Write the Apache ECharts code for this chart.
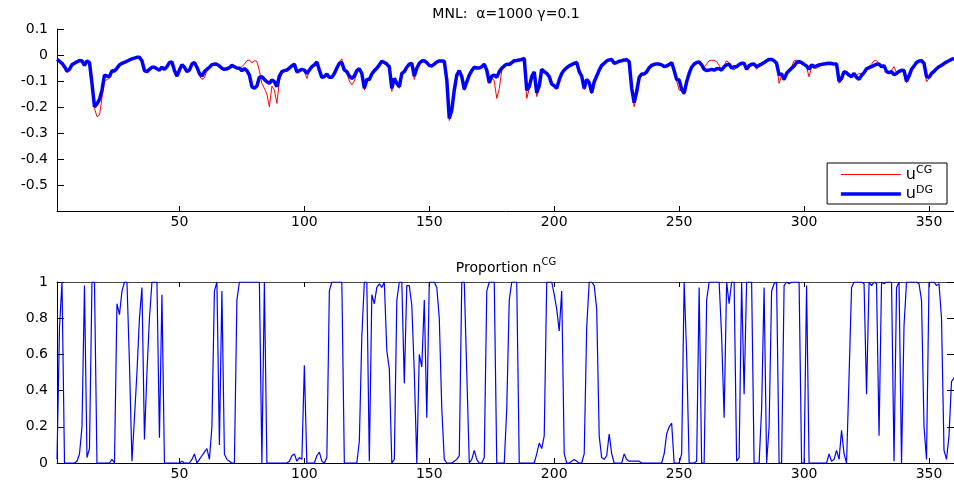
<!DOCTYPE html>
<html><head><meta charset="utf-8">
<script src="https://cdn.jsdelivr.net/npm/echarts@6/dist/echarts.min.js"></script>
<style>html,body{margin:0;padding:0;background:#fff}#c{width:954px;height:487px}</style>
</head><body><div id="c"></div>
<script>
const N = 360;
const xs = Array.from({length: N}, (_, k) => k + 1);
const xTicks = [50, 100, 150, 200, 250, 300, 350];

const uDG = [
-0.017,-0.024,-0.032,-0.045,-0.062,-0.055,-0.037,-0.032,-0.026,-0.022,
-0.022,-0.040,-0.023,-0.029,-0.109,-0.199,-0.188,-0.171,-0.135,-0.077,
-0.081,-0.083,-0.060,-0.062,-0.051,-0.038,-0.032,-0.028,-0.024,-0.019,
-0.015,-0.012,-0.009,-0.009,-0.022,-0.060,-0.064,-0.055,-0.047,-0.047,
-0.053,-0.058,-0.047,-0.055,-0.045,-0.029,-0.027,-0.060,-0.081,-0.058,
-0.037,-0.047,-0.064,-0.058,-0.035,-0.029,-0.047,-0.071,-0.081,-0.064,
-0.055,-0.047,-0.037,-0.035,-0.036,-0.042,-0.051,-0.055,-0.053,-0.049,
-0.040,-0.045,-0.050,-0.051,-0.060,-0.053,-0.060,-0.077,-0.122,-0.128,
-0.119,-0.086,-0.083,-0.094,-0.103,-0.109,-0.096,-0.103,-0.122,-0.081,
-0.064,-0.060,-0.058,-0.050,-0.042,-0.035,-0.065,-0.060,-0.055,-0.058,
-0.071,-0.058,-0.045,-0.038,-0.027,-0.058,-0.086,-0.083,-0.073,-0.086,
-0.086,-0.071,-0.050,-0.032,-0.029,-0.058,-0.064,-0.081,-0.090,-0.081,
-0.060,-0.053,-0.071,-0.128,-0.094,-0.094,-0.073,-0.060,-0.051,-0.038,
-0.024,-0.029,-0.035,-0.045,-0.128,-0.090,-0.109,-0.122,-0.071,-0.064,
-0.047,-0.035,-0.032,-0.081,-0.051,-0.032,-0.023,-0.022,-0.029,-0.040,
-0.042,-0.035,-0.027,-0.023,-0.023,-0.024,-0.096,-0.244,-0.212,-0.135,
-0.077,-0.060,-0.083,-0.132,-0.103,-0.077,-0.060,-0.047,-0.050,-0.050,
-0.045,-0.035,-0.058,-0.106,-0.081,-0.077,-0.086,-0.064,-0.051,-0.042,
-0.035,-0.037,-0.029,-0.022,-0.021,-0.019,-0.017,-0.013,-0.135,-0.122,
-0.083,-0.065,-0.145,-0.119,-0.055,-0.064,-0.071,-0.083,-0.112,-0.118,
-0.128,-0.096,-0.071,-0.058,-0.049,-0.042,-0.037,-0.032,-0.029,-0.064,
-0.081,-0.128,-0.094,-0.106,-0.145,-0.103,-0.081,-0.058,-0.040,-0.032,
-0.023,-0.019,-0.017,-0.032,-0.029,-0.024,-0.022,-0.019,-0.018,-0.026,
-0.128,-0.183,-0.141,-0.086,-0.073,-0.073,-0.065,-0.049,-0.040,-0.036,
-0.035,-0.035,-0.038,-0.044,-0.042,-0.037,-0.029,-0.060,-0.094,-0.096,
-0.132,-0.147,-0.103,-0.071,-0.047,-0.035,-0.029,-0.027,-0.038,-0.055,
-0.060,-0.058,-0.055,-0.058,-0.053,-0.053,-0.058,-0.045,-0.038,-0.035,
-0.050,-0.045,-0.045,-0.037,-0.032,-0.032,-0.055,-0.041,-0.036,-0.035,
-0.045,-0.040,-0.035,-0.029,-0.022,-0.017,-0.017,-0.022,-0.032,-0.076,
-0.073,-0.094,-0.071,-0.060,-0.051,-0.042,-0.029,-0.026,-0.029,-0.036,
-0.042,-0.055,-0.038,-0.045,-0.042,-0.038,-0.036,-0.035,-0.033,-0.032,
-0.033,-0.035,-0.035,-0.101,-0.090,-0.064,-0.068,-0.078,-0.083,-0.071,
-0.086,-0.094,-0.078,-0.068,-0.053,-0.049,-0.045,-0.040,-0.036,-0.035,
-0.045,-0.041,-0.064,-0.068,-0.064,-0.076,-0.071,-0.063,-0.059,-0.060,
-0.101,-0.081,-0.055,-0.042,-0.029,-0.023,-0.022,-0.032,-0.083,-0.086,
-0.071,-0.063,-0.053,-0.045,-0.040,-0.033,-0.027,-0.022,-0.017,-0.013
];

const uCG = [
-0.015,-0.026,-0.035,-0.050,-0.068,-0.058,-0.040,-0.034,-0.028,-0.020,
-0.020,-0.042,-0.025,-0.031,-0.115,-0.205,-0.237,-0.231,-0.165,-0.103,
-0.094,-0.090,-0.066,-0.064,-0.053,-0.040,-0.033,-0.028,-0.023,-0.018,
-0.014,-0.011,-0.008,-0.010,-0.025,-0.064,-0.068,-0.057,-0.046,-0.044,
-0.050,-0.061,-0.045,-0.058,-0.047,-0.027,-0.025,-0.065,-0.084,-0.060,
-0.035,-0.050,-0.067,-0.060,-0.033,-0.028,-0.050,-0.080,-0.094,-0.088,
-0.060,-0.048,-0.036,-0.033,-0.035,-0.045,-0.055,-0.058,-0.053,-0.047,
-0.038,-0.047,-0.052,-0.050,-0.045,-0.035,-0.022,-0.019,-0.030,-0.022,
-0.025,-0.060,-0.110,-0.128,-0.150,-0.199,-0.120,-0.135,-0.186,-0.100,
-0.070,-0.062,-0.060,-0.052,-0.045,-0.036,-0.070,-0.062,-0.058,-0.062,
-0.090,-0.062,-0.047,-0.036,-0.024,-0.062,-0.090,-0.085,-0.070,-0.088,
-0.088,-0.073,-0.048,-0.025,-0.015,-0.062,-0.070,-0.100,-0.115,-0.100,
-0.070,-0.056,-0.075,-0.135,-0.098,-0.098,-0.075,-0.062,-0.050,-0.036,
-0.022,-0.028,-0.036,-0.048,-0.140,-0.094,-0.112,-0.128,-0.075,-0.066,
-0.045,-0.034,-0.030,-0.094,-0.055,-0.032,-0.022,-0.021,-0.026,-0.042,
-0.044,-0.036,-0.027,-0.022,-0.022,-0.025,-0.105,-0.252,-0.218,-0.140,
-0.080,-0.062,-0.088,-0.136,-0.108,-0.080,-0.062,-0.048,-0.052,-0.052,
-0.046,-0.033,-0.062,-0.110,-0.085,-0.100,-0.167,-0.130,-0.060,-0.044,
-0.036,-0.038,-0.030,-0.023,-0.020,-0.018,-0.016,-0.014,-0.167,-0.130,
-0.086,-0.068,-0.160,-0.125,-0.058,-0.066,-0.073,-0.086,-0.116,-0.122,
-0.132,-0.100,-0.074,-0.060,-0.050,-0.043,-0.038,-0.033,-0.030,-0.068,
-0.086,-0.133,-0.098,-0.110,-0.150,-0.108,-0.085,-0.060,-0.041,-0.033,
-0.023,-0.019,-0.017,-0.034,-0.030,-0.025,-0.022,-0.019,-0.018,-0.028,
-0.135,-0.199,-0.150,-0.092,-0.078,-0.076,-0.068,-0.051,-0.041,-0.036,
-0.035,-0.036,-0.039,-0.046,-0.044,-0.038,-0.030,-0.064,-0.100,-0.135,
-0.138,-0.152,-0.108,-0.074,-0.048,-0.035,-0.028,-0.027,-0.036,-0.045,
-0.035,-0.022,-0.020,-0.021,-0.025,-0.040,-0.058,-0.040,-0.022,-0.030,
-0.052,-0.058,-0.048,-0.038,-0.033,-0.031,-0.058,-0.043,-0.037,-0.036,
-0.055,-0.042,-0.036,-0.029,-0.021,-0.016,-0.016,-0.022,-0.034,-0.109,
-0.080,-0.098,-0.074,-0.058,-0.045,-0.022,-0.020,-0.024,-0.030,-0.038,
-0.048,-0.084,-0.045,-0.052,-0.051,-0.045,-0.040,-0.036,-0.034,-0.033,
-0.034,-0.036,-0.036,-0.109,-0.095,-0.066,-0.070,-0.080,-0.085,-0.073,
-0.080,-0.070,-0.074,-0.065,-0.050,-0.045,-0.035,-0.022,-0.022,-0.034,
-0.046,-0.043,-0.066,-0.070,-0.058,-0.045,-0.068,-0.064,-0.060,-0.062,
-0.106,-0.084,-0.056,-0.043,-0.028,-0.022,-0.021,-0.033,-0.103,-0.090,
-0.074,-0.065,-0.054,-0.046,-0.041,-0.034,-0.028,-0.022,-0.017,-0.013
];

const nCG = [
0.02,0.75,1,0,0,0,0,0,0.01,0.05,
0.2,0.98,0.03,0.08,1,1,0,0,0,0,
0,0,0.02,0,0.88,0.82,0.95,1,1,0.55,
0.01,0.25,0.5,0.8,0.97,0.13,0.5,0.8,1,1,
1,0.14,0.93,0,0,0,0,0,0,0,
0.01,0,0,0,0.02,0.05,0,0.02,0.04,0.06,
0.08,0.02,0.2,0.95,1,0.1,0.95,0.05,0.02,0.01,
0,0,0.9,1,1,1,1,1,1,1,
1,1,0,1,0,0,0,0,0,0,
0,0,0,0.01,0.04,0.05,0.01,0.03,0.02,0.54,
0,0,0,0,0.04,0.06,0.01,0,0.03,0.95,
1,1,1,1,1,0,0,0,0,0,
0,0.12,0.7,1,1,0.01,0.93,0.88,0.97,0.99,
0.97,1,0.62,0.52,0,0.02,0.9,1,1,0.44,
0.98,0.98,0.87,0.5,0,0.6,0.53,0.9,0.25,1,
1,1,0.97,0.8,0.3,0.02,0,0,0,0.01,
0.02,0.04,1,1,0.5,0,0.02,0.07,0.02,0,
0,0.03,0.95,1,1,1,0,0,0,0,
0.3,0.9,1,1,1,0,0,0,0,0,
0,0,0.05,0.11,0.08,0.15,1,1,1,0.93,
0.85,0.73,0.95,0.05,0,0,0.01,0.02,0.01,0,
0,0.05,0.75,1,1,0.98,0.85,0.15,0.03,0.02,
0.04,0.16,0.05,0,0,0,0,0.05,0.02,0.01,
0.01,0.01,0.01,0.01,0,0,0,0,0,0,
0,0,0,0.05,0.16,0.2,0.22,0,0,0,
0.05,1,0.6,0,0,0,0.01,0.97,0,0,
0.9,1,1,1,1,1,0.7,0.25,1,0.88,
1,1,0.01,0.03,1,0.38,1,1,1,0,
0,0,0.3,0.97,0,0.2,0.95,0.99,1,0,
0,0.98,1,0.99,1,1,1,1,0,0,
0.98,0,0,0,0,0,0,0,0,0.05,
0.01,0.02,0.07,0.02,0.18,0.05,0,0.48,0.97,1,
1,1,1,0.99,0.38,1,0.98,1,0.99,0.15,
1,0.99,1,1,1,0.01,0.97,1,0,0.76,
1,1,1,1,1,0.99,0.9,0.2,0.02,1,
1,1,0.98,0.99,0.8,0.07,0.02,0.15,0.45,0.47
];

const FONT = 'DejaVu Sans';
const FS = 14;
function fmt(v) {
  const r = Math.round(v * 10) / 10;
  return (r === 0 ? '0' : String(r));
}
const lbl = {color: '#000', fontFamily: FONT, fontSize: FS};
const line = {show: true, onZero: false, lineStyle: {color: '#000', width: 1}};

const chart = echarts.init(document.getElementById('c'), null, {renderer: 'canvas'});
chart.setOption({
  animation: false,
  backgroundColor: '#fff',
  grid: [
    {left: 57, right: -2, top: 29, height: 182},
    {left: 57, right: -2, top: 282, height: 181}
  ],
  xAxis: [
    {gridIndex: 0, type: 'value', min: 1, max: 360, axisLine: line, splitLine: {show: false},
     axisTick: {show: true, inside: true, length: 5, customValues: xTicks, lineStyle: {color: '#000'}},
     axisLabel: Object.assign({}, lbl, {customValues: xTicks, margin: 4})},
    {gridIndex: 1, type: 'value', min: 1, max: 360, axisLine: line, splitLine: {show: false},
     axisTick: {show: true, inside: true, length: 5, customValues: xTicks, lineStyle: {color: '#000'}},
     axisLabel: Object.assign({}, lbl, {customValues: xTicks, margin: 4})},
    {gridIndex: 1, type: 'value', min: 1, max: 360, position: 'top', axisLine: {show: true, onZero: false, lineStyle: {color: '#444', width: 1}}, splitLine: {show: false},
     axisTick: {show: true, inside: true, length: 5, customValues: xTicks, lineStyle: {color: '#000'}},
     axisLabel: {show: false}}
  ],
  yAxis: [
    {gridIndex: 0, type: 'value', min: -0.6, max: 0.1, interval: 0.1, axisLine: line, splitLine: {show: false},
     axisTick: {show: true, inside: true, length: 7, lineStyle: {color: '#000'}},
     axisLabel: Object.assign({}, lbl, {margin: 9, formatter: v => (Math.abs(v + 0.6) < 1e-9 ? '' : fmt(v))})},
    {gridIndex: 1, type: 'value', min: 0, max: 1, interval: 0.2, axisLine: line, splitLine: {show: false},
     axisTick: {show: true, inside: true, length: 7, lineStyle: {color: '#000'}},
     axisLabel: Object.assign({}, lbl, {margin: 9, formatter: v => fmt(v)})},
    {gridIndex: 1, type: 'value', min: 0, max: 1, interval: 0.2, position: 'right', axisLine: line, splitLine: {show: false},
     axisTick: {show: true, inside: true, length: 7, lineStyle: {color: '#000'}},
     axisLabel: {show: false}}
  ],
  legend: {
    show: true,
    right: 7, top: 163, orient: 'vertical',
    data: [
      {name: 'uCG', itemStyle: {opacity: 0}, lineStyle: {color: '#ff0000', width: 1}},
      {name: 'uDG', itemStyle: {opacity: 0}, lineStyle: {color: '#0000ff', width: 3.5}}
    ],
    itemWidth: 60, itemHeight: 14, itemGap: 2,
    padding: [2, 14, 2, 12],
    borderColor: '#000', borderWidth: 1, backgroundColor: '#fff',
    formatter: function (n) { return n === 'uCG' ? '{u|u}{s|CG}' : '{u|u}{s|DG}'; },
    textStyle: {
      color: '#000', fontFamily: FONT, fontSize: 15,
      rich: {
        u: {fontSize: 16, fontFamily: FONT, color: '#000'},
        s: {fontSize: 11, fontFamily: FONT, color: '#000', verticalAlign: 'top', padding: [0, 0, 8, 0]}
      }
    }
  },
  graphic: [
    {type: 'text', silent: true, z: 10, x: 506, y: 7,
     style: {text: 'MNL:  α=1000 γ=0.1', textAlign: 'center', fontSize: FS, fontFamily: FONT, fill: '#000'}},
    {type: 'text', silent: true, z: 10, x: 506, y: 256,
     style: {text: '{a|Proportion n}{b|CG}', textAlign: 'center', fill: '#000',
       rich: {a: {fontSize: FS, fontFamily: FONT, fill: '#000', padding: [5, 0, 0, 0]},
              b: {fontSize: 10, fontFamily: FONT, fill: '#000', padding: [0, 0, 6, 0]}}}}
  ],
  series: [
    {name: 'uCG', type: 'line', xAxisIndex: 0, yAxisIndex: 0, showSymbol: false, symbol: 'none',
     data: xs.map((x, k) => [x, uCG[k]]), lineStyle: {color: '#ff0000', width: 1}, itemStyle: {color: '#ff0000'}, z: 2},
    {name: 'uDG', type: 'line', xAxisIndex: 0, yAxisIndex: 0, showSymbol: false, symbol: 'none',
     data: xs.map((x, k) => [x, uDG[k]]), lineStyle: {color: '#0000ff', width: 3.5}, itemStyle: {color: '#0000ff'}, z: 3},
    {name: 'nCG', type: 'line', xAxisIndex: 1, yAxisIndex: 1, showSymbol: false, symbol: 'none',
     data: xs.map((x, k) => [x, nCG[k]]), lineStyle: {color: '#0000ff', width: 1.2}, itemStyle: {color: '#0000ff'}, z: 2}
  ]
});
</script>
</body></html>
